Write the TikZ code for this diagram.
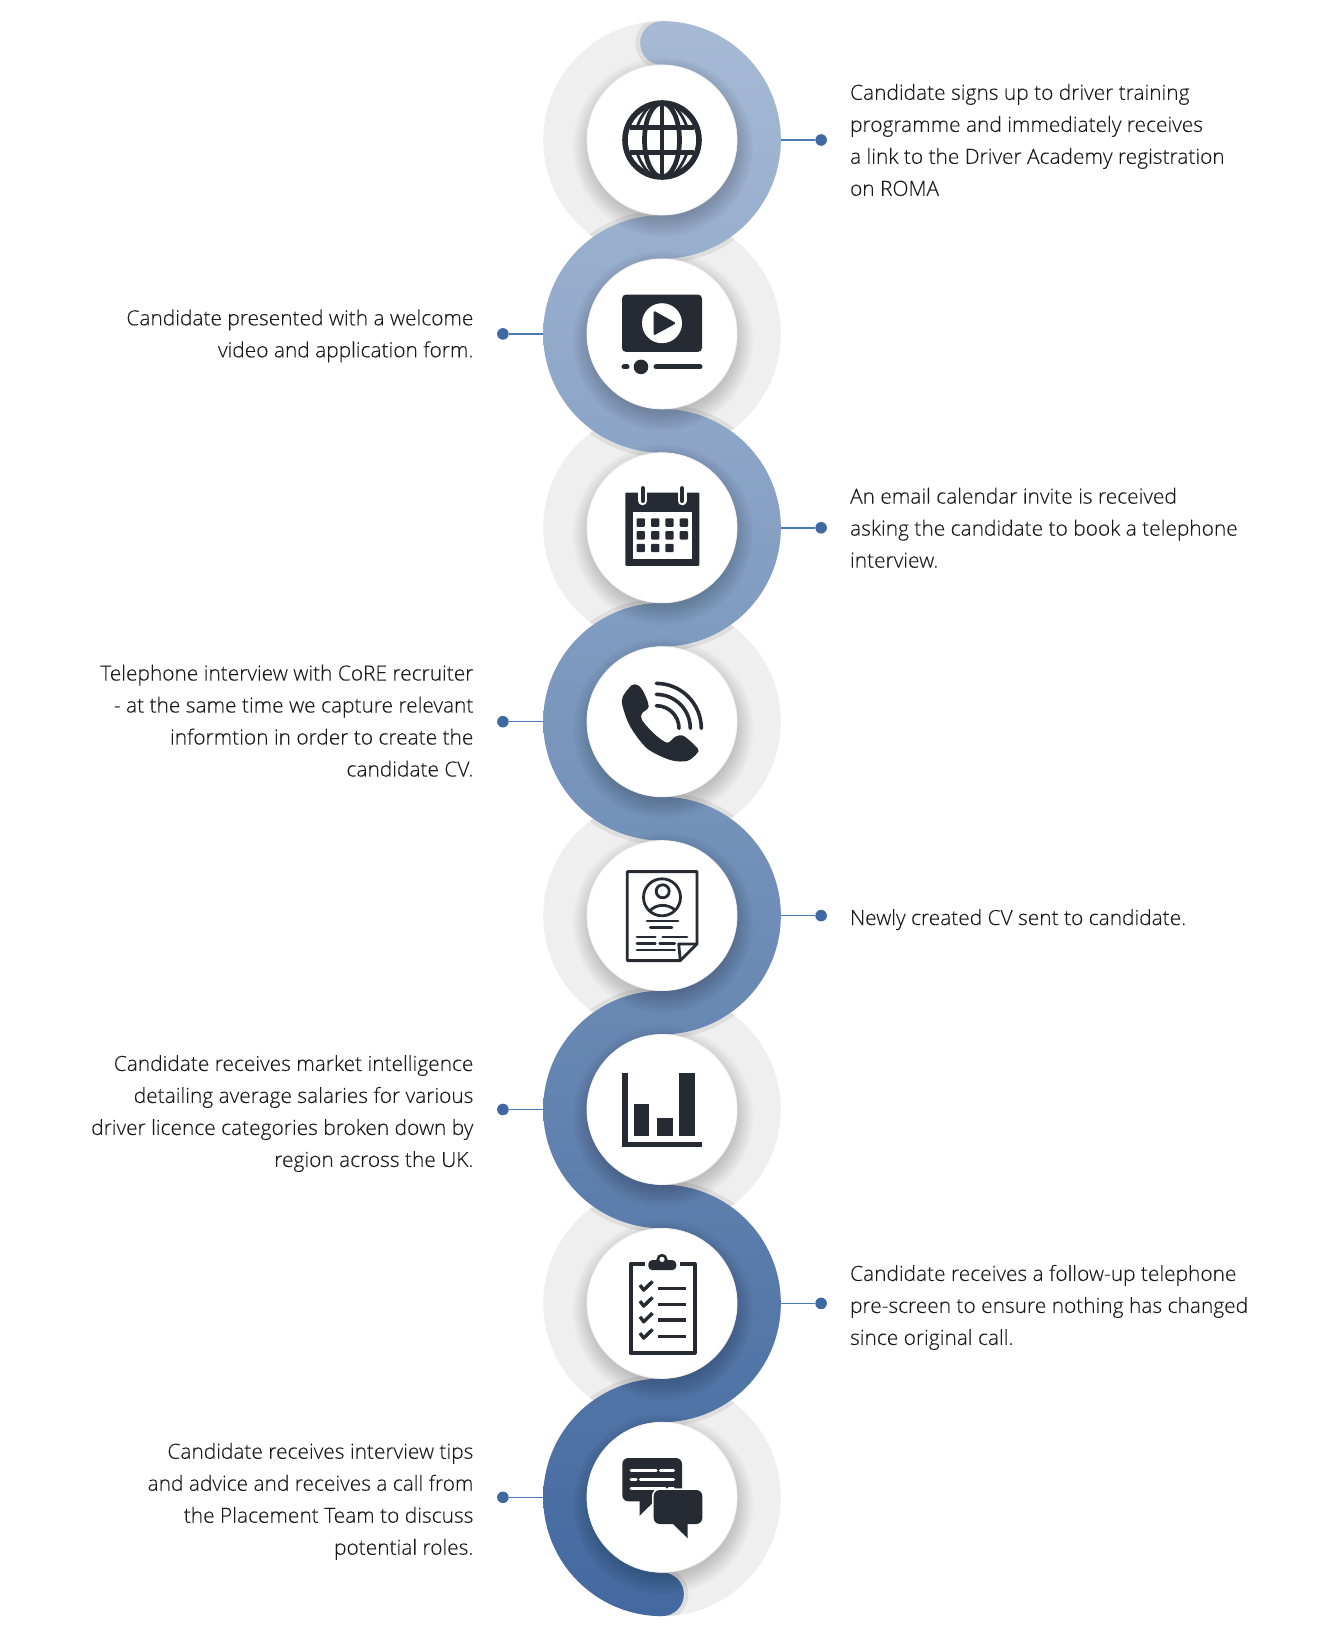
\documentclass[tikz,border=0pt]{standalone}
\usepackage{fontspec}
\setmainfont{Open Sans}[UprightFont=* Light,UprightFeatures={FakeBold=0.15}]
\usepackage{xcolor}
\usepackage{tikz}
\usetikzlibrary{positioning,calc}
\definecolor{ink}{HTML}{262A33}
\definecolor{wire}{HTML}{4A79B8}
\definecolor{pin}{HTML}{3F69A3}
\definecolor{ribbontop}{HTML}{A6BAD5}
\definecolor{ribbonend}{HTML}{43699F}
\definecolor{softgrey}{HTML}{EFEFEF}
\definecolor{crease}{HTML}{DEDEDE}
\definecolor{copy}{HTML}{1A1A1A}
\tikzset{
  halo/.style     = {circle, fill=softgrey, inner sep=0pt, outer sep=0pt, minimum size=237.6pt},
  plate/.style    = {circle, fill=white, draw=black!5, line width=0.8pt, inner sep=0pt, outer sep=0pt, minimum size=150pt},
  stud/.style     = {circle, fill=pin, inner sep=0pt, outer sep=0pt, minimum size=11.6pt},
  wireline/.style = {draw=wire, line width=1.5pt},
  note/.style     = {text=copy, inner sep=0pt, font=\fontsize{20.9}{32}\selectfont},
  noteR/.style    = {note, align=left, anchor=west},
  noteL/.style    = {note, align=right, anchor=east},
  glyph/.style    = {draw=ink, line width=4.7pt},
  thin/.style     = {draw=ink, line width=2.8pt, line cap=round},
}
\newcommand{\ribbonpath}{(662,-21.2)
  foreach \k in {1,...,4}{ arc (90:-90:118.8) arc (90:270:75.1) }
  arc (90:-90:21.85)
  foreach \k in {1,...,4}{ arc (270:90:118.8) arc (-90:90:75.1) }
  arc (270:90:21.85) -- cycle}
\newcommand{\softshadow}[1]{%
  \foreach \r in {72,74,...,90}{\fill[black,opacity=0.02] ($(#1)+(1,-7)$) circle (\r);}}
\begin{document}
\begin{tikzpicture}[x=1pt,y=1pt]
  \useasboundingbox (0,0) rectangle (1324,-1637);

  % grey rings behind the ribbon
  \node[halo] (ring1) at (662,-140) {};
  \node[halo] (ring2) at (662,-333.9) {};
  \node[halo] (ring3) at (662,-527.8) {};
  \node[halo] (ring4) at (662,-721.7) {};
  \node[halo] (ring5) at (662,-915.6) {};
  \node[halo] (ring6) at (662,-1109.5) {};
  \node[halo] (ring7) at (662,-1303.4) {};
  \node[halo] (ring8) at (662,-1497.3) {};

  % crease of the ribbon, only on the rings
  \begin{scope}
    \clip (ring1) circle (118.8) (ring2) circle (118.8) (ring3) circle (118.8) (ring4) circle (118.8)
          (ring5) circle (118.8) (ring6) circle (118.8) (ring7) circle (118.8) (ring8) circle (118.8);
    \draw[crease, line width=9pt] \ribbonpath;
  \end{scope}
  \shade[top color=ribbontop, bottom color=ribbonend] \ribbonpath;

  \softshadow{ring1} \softshadow{ring2} \softshadow{ring3} \softshadow{ring4}
  \softshadow{ring5} \softshadow{ring6} \softshadow{ring7} \softshadow{ring8}

  \node[plate] (step1) at (ring1) {};
  \node[plate] (step2) at (ring2) {};
  \node[plate] (step3) at (ring3) {};
  \node[plate] (step4) at (ring4) {};
  \node[plate] (step5) at (ring5) {};
  \node[plate] (step6) at (ring6) {};
  \node[plate] (step7) at (ring7) {};
  \node[plate] (step8) at (ring8) {};

  % pins and leaders
  \node[stud, right=34.5pt of ring1] (pin1) {};
  \node[stud, left=34.5pt of ring2] (pin2) {};
  \node[stud, right=34.5pt of ring3] (pin3) {};
  \node[stud, left=34.5pt of ring4] (pin4) {};
  \node[stud, right=34.5pt of ring5] (pin5) {};
  \node[stud, left=34.5pt of ring6] (pin6) {};
  \node[stud, right=34.5pt of ring7] (pin7) {};
  \node[stud, left=34.5pt of ring8] (pin8) {};
  \draw[wireline] (ring1.east)--(pin1); \draw[wireline] (ring2.west)--(pin2);
  \draw[wireline] (ring3.east)--(pin3); \draw[wireline] (ring4.west)--(pin4);
  \draw[wireline] (ring5.east)--(pin5); \draw[wireline] (ring6.west)--(pin6);
  \draw[wireline] (ring7.east)--(pin7); \draw[wireline] (ring8.west)--(pin8);

  % captions
  \node[noteR, right=23pt of pin1] (note1) {Candidate signs up to driver training\\programme and immediately receives\\a link to the Driver Academy registration\\on ROMA};
  \node[noteL, left=23.5pt of pin2, yshift=-2pt] (note2) {Candidate presented with a welcome\\video and application form.};
  \node[noteR, right=23pt of pin3] (note3) {An email calendar invite is received\\asking the candidate to book a telephone\\interview.};
  \node[noteL, left=23.5pt of pin4, yshift=1pt] (note4) {Telephone interview with CoRE recruiter\hspace{6pt}\\- at the same time we capture relevant\\informtion in order to create the\hspace{6pt}\\candidate CV.};
  \node[noteR, right=23pt of pin5, yshift=-4pt] (note5) {Newly created CV sent to candidate.};
  \node[noteL, left=23.5pt of pin6, yshift=-4pt] (note6) {Candidate receives market intelligence\\detailing average salaries for various\\driver licence categories broken down by\\region across the UK.};
  \node[noteR, right=23pt of pin7, yshift=-4pt] (note7) {Candidate receives a follow-up telephone\\pre-screen to ensure nothing has changed\\since original call.};
  \node[noteL, left=23.5pt of pin8, yshift=-4pt] (note8) {Candidate receives interview tips\\and advice and receives a call from\\the Placement Team to discuss\\potential roles.};

  % globe
  \begin{scope}[shift={(step1.center)}]
    \draw[glyph, line width=5.6pt] (0,0) circle (37);
    \draw[glyph] (0,0) ellipse (17.5 and 37);
    \draw[glyph] (0,37)--(0,-37);
    \draw[glyph] (-32,12.5)--(32,12.5);
    \draw[glyph] (-32,-12.5)--(32,-12.5);
    \draw[glyph, line width=2.8pt] (-13,33) .. controls (-18,28) and (-22,21) .. (-25,13);
    \draw[glyph, line width=2.8pt] (13,33) .. controls (18,28) and (22,21) .. (25,13);
    \draw[glyph, line width=2.8pt] (-13,-33) .. controls (-18,-28) and (-22,-21) .. (-25,-13);
    \draw[glyph, line width=2.8pt] (13,-33) .. controls (18,-28) and (22,-21) .. (25,-13);
  \end{scope}

  % video player
  \begin{scope}[shift={(step2.center)}]
    \fill[ink, rounded corners=4pt] (-40,39.3) rectangle (40,-18);
    \fill[white] (0,10.7) circle (20);
    \fill[ink, rounded corners=1.5pt] (-8.3,23.3)--(14.3,10.7)--(-8.3,-1.7)--cycle;
    \draw[ink, line width=5pt, line cap=round] (-38,-33)--(-35,-33);
    \draw[ink, line width=5pt, line cap=round] (-6,-33)--(38,-33);
    \fill[ink] (-21,-33) circle (7.3);
  \end{scope}

  % calendar
  \begin{scope}[shift={(step3.center)}]
    \fill[ink, rounded corners=1pt] (-36.7,35.3) rectangle (37.3,-38);
    \fill[white] (-29.3,16) rectangle (30.3,-31);
    \foreach \px/\py in {-21.3/5.2,-6.8/5.2,7.5/5.2,21.8/5.2,-21.3/-7.5,-6.8/-7.5,7.5/-7.5,21.8/-7.5,-21.3/-20.2,-6.8/-20.2,7.5/-20.2}
      \fill[ink, rounded corners=1pt] (\px-4.2,\py-4.2) rectangle (\px+4.2,\py+4.2);
    \foreach \px in {-19.3,20}{
      \draw[white, line width=9pt, line cap=round] (\px,35)--(\px,27);
      \draw[ink, line width=4.4pt, line cap=round] (\px,39.5)--(\px,27);
    }
  \end{scope}

  % telephone
  \begin{scope}[shift={(step4.center)}]
    \fill[ink] plot[smooth cycle, tension=0.5] coordinates {(-39.3,25) (-30,36.7) (-23.3,36) (-17.7,28.3) (-13.3,15) (-20,8.3) (-20,1.7) (-8.3,-11.7) (5,-21) (13.3,-15) (21.7,-14.3) (35.7,-26.7) (35,-31.7) (25,-39.3) (8.3,-38.3) (-15,-26.7) (-31.7,-5) (-39.3,15)};
    \draw[ink, line width=3.6pt, line cap=round] (-5.7,38.3) arc (90:0:45);
    \draw[ink, line width=3.6pt, line cap=round] (-5.7,27.3) arc (90:0:34);
    \draw[ink, line width=3.6pt, line cap=round] (-5.7,16) arc (90:0:22.7);
  \end{scope}

  % curriculum vitae
  \begin{scope}[shift={(step5.center)}]
    \draw[thin, line join=round] (18.3,-45)--(-34.7,-45)--(-34.7,44)--(35,44)--(35,-28.3)--cycle;
    \draw[thin, line join=round] (18.3,-45)--(16.7,-28.3)--(35,-28.3);
    \draw[thin] (0,18.3) circle (18.5);
    \draw[thin] (0.7,24.3) circle (6.5);
    \draw[thin] (-12.3,4.5) .. controls (-6,12) and (6,12) .. (13,5.5);
    \draw[thin] (-15,-5.3)--(16,-5.3);
    \draw[thin] (-11.7,-11.7)--(10,-11.7);
    \draw[thin] (-25,-21.3)--(-6.7,-21.3);
    \draw[thin] (0.7,-21.3)--(25,-21.3);
    \draw[thin] (-25,-27.7)--(-6.7,-27.7);
    \draw[thin] (-2.3,-27.7)--(12.7,-27.7);
    \draw[thin] (-25,-34.3)--(12.7,-34.3);
  \end{scope}

  % bar chart
  \begin{scope}[shift={(step6.center)}]
    \fill[ink] (-39.7,36.7) rectangle (-34.3,-37.3);
    \fill[ink] (-39.7,-32.3) rectangle (40.3,-37.3);
    \fill[ink] (-28,6) rectangle (-12.7,-26.7);
    \fill[ink] (-5,-8.3) rectangle (10.7,-26.7);
    \fill[ink] (17.3,36.7) rectangle (33,-26.7);
  \end{scope}

  % checklist
  \begin{scope}[shift={(step7.center)}]
    \draw[ink, line width=4pt, line join=round] (-17,39.5)--(-31.5,39.5)--(-31.5,-49.5)--(32.5,-49.5)--(32.5,39.5)--(18,39.5);
    \fill[ink, rounded corners=4pt] (-13.7,43.3) rectangle (14.3,33.3);
    \fill[ink] (0,44) circle (5.6);
    \fill[white] (0,44) circle (2.6);
    \foreach \py in {15,-1,-16.7,-33}{
      \draw[ink, line width=3.4pt] (-4,\py)--(24,\py);
      \draw[ink, line width=3.4pt, line join=round] (-22,\py+3.3)--(-18.3,\py-1.7)--(-9.5,\py+7);
    }
  \end{scope}

  % chat bubbles
  \begin{scope}[shift={(step8.center)}]
    \fill[ink, rounded corners=6pt] (-39.7,39.3) rectangle (20,-4);
    \fill[ink] (-22.3,-3)--(-22.3,-18.3)--(-6.7,-3)--cycle;
    \draw[white, line width=3.4pt, rounded corners=6pt] (-8.3,7.3) rectangle (40.3,-26.7);
    \draw[white, line width=3.4pt] (10,-26.7)--(25.7,-41)--(25.7,-26.7);
    \fill[ink, rounded corners=6pt] (-8.3,7.3) rectangle (40.3,-26.7);
    \fill[ink] (10,-25.7)--(25.7,-41)--(25.7,-25.7)--cycle;
    \foreach \xa/\xb/\py in {-31/-5.7/26.7,-1.7/11.7/26.7,-31/-25.7/17.7,-21.7/11.7/17.7,-31/3.3/9,6.7/11.7/9}
      \draw[white, line width=2.6pt, line cap=round] (\xa,\py)--(\xb,\py);
  \end{scope}
\end{tikzpicture}
\end{document}
